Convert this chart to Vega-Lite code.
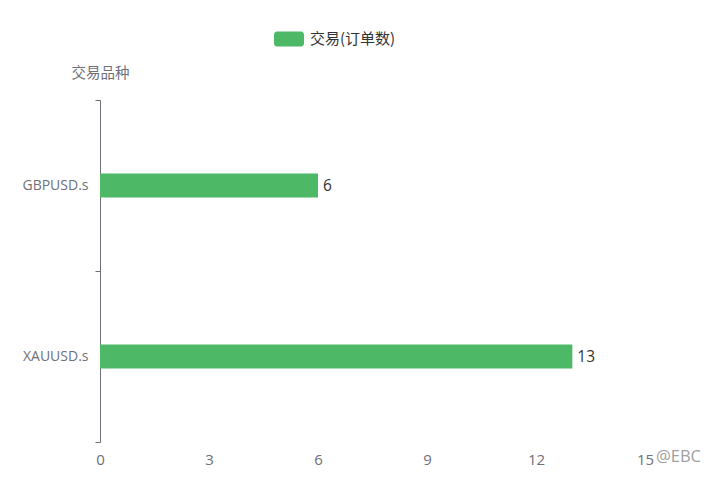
{
  "$schema": "https://vega.github.io/schema/vega-lite/v6.json",
  "width": 545,
  "height": 342,
  "autosize": {"type": "none"},
  "padding": {"left": 100, "top": 100, "right": 66, "bottom": 47},
  "background": "#ffffff",
  "config": {
    "view": {"stroke": null},
    "font": "Open Sans, Noto Sans CJK SC"
  },
  "title": {
    "text": "@EBC",
    "orient": "bottom",
    "anchor": "end",
    "align": "left",
    "frame": "group",
    "dx": 11,
    "offset": -18,
    "fontSize": 16.5,
    "fontWeight": "normal",
    "color": "#a0a0a0",
    "font": "Open Sans"
  },
  "data": {
    "values": [
      {"symbol": "GBPUSD.s", "count": 6, "series": "交易(订单数)"},
      {"symbol": "XAUUSD.s", "count": 13, "series": "交易(订单数)"}
    ]
  },
  "encoding": {
    "y": {
      "field": "symbol",
      "type": "nominal",
      "sort": ["GBPUSD.s", "XAUUSD.s"],
      "scale": {"paddingInner": 0, "paddingOuter": 0},
      "axis": {
        "title": "交易品种",
        "titleFont": "Noto Sans CJK SC",
        "titleAngle": 0,
        "titleX": 0,
        "titleY": -27,
        "titleAlign": "center",
        "titleBaseline": "middle",
        "titleFontSize": 14.5,
        "titleFontWeight": "normal",
        "titleColor": "#6e7079",
        "domainColor": "#6e7079",
        "tickColor": "#6e7079",
        "tickSize": 5,
        "tickBand": "extent",
        "labelColor": "#6e7079",
        "labelFont": "Open Sans",
        "labelFontSize": 14,
        "labelPadding": 7,
        "grid": false
      }
    },
    "x": {
      "field": "count",
      "type": "quantitative",
      "scale": {"domain": [0, 15], "nice": false},
      "axis": {
        "title": null,
        "values": [0, 3, 6, 9, 12, 15],
        "domain": false,
        "ticks": false,
        "grid": false,
        "labelColor": "#6e7079",
        "labelFont": "Open Sans",
        "labelFontSize": 15,
        "labelPadding": 10,
        "labelFlush": false
      }
    }
  },
  "layer": [
    {
      "mark": {"type": "bar", "size": 24},
      "encoding": {
        "color": {
          "field": "series",
          "type": "nominal",
          "scale": {"range": ["#4db866"]},
          "legend": {
            "title": null,
            "orient": "none",
            "legendX": 174,
            "legendY": -76,
            "symbolType": "M -0.8 -0.5 L 0.8 -0.5 A 0.2 0.2 0 0 1 1 -0.3 L 1 0.3 A 0.2 0.2 0 0 1 0.8 0.5 L -0.8 0.5 A 0.2 0.2 0 0 1 -1 0.3 L -1 -0.3 A 0.2 0.2 0 0 1 -0.8 -0.5 Z",
            "symbolSize": 900,
            "symbolStrokeWidth": 0,
            "symbolOpacity": 1,
            "labelFont": "Noto Sans CJK SC",
            "labelFontSize": 15,
            "labelColor": "#333333",
            "labelOffset": 6
          }
        }
      }
    },
    {
      "mark": {"type": "text", "align": "left", "baseline": "middle", "dx": 5, "fontSize": 15.5, "font": "Open Sans", "color": "#333333"},
      "encoding": {"text": {"field": "count", "type": "quantitative"}}
    }
  ]
}
